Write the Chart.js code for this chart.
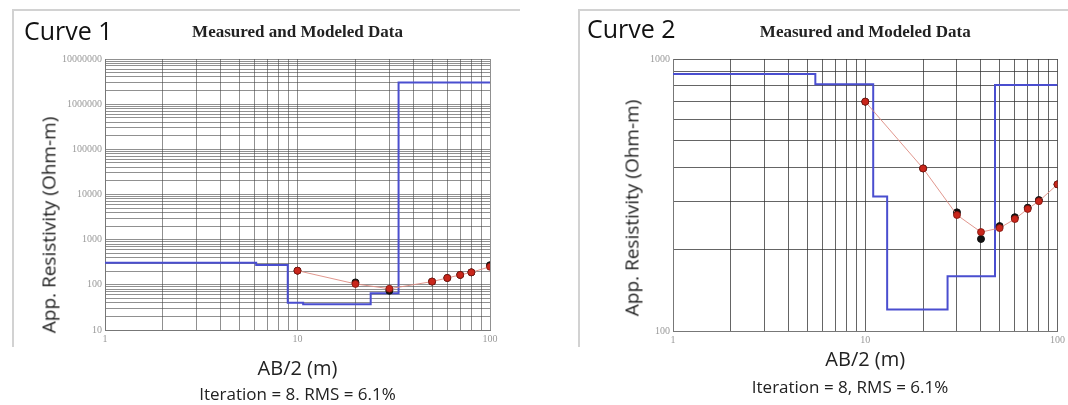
<!DOCTYPE html>
<html>
<head>
<meta charset="utf-8">
<title>Measured and Modeled Data</title>
<script src="https://cdn.jsdelivr.net/npm/chart.js@4.4.1/dist/chart.umd.min.js"></script>
<style>
  body { margin: 0; background: #fff; }
  #page { position: relative; width: 1068px; height: 405px; overflow: hidden; }
  #page canvas { position: absolute; top: 0; }
  .frame { position: absolute; border-top: 2px solid #d2d2d2; border-left: 2px solid #d2d2d2; }
  .curve { position: absolute; font-family: "Open Sans", sans-serif; font-size: 25px; line-height: 25px; color: #111; }
  .ytitle { position: absolute; font-family: "Open Sans", sans-serif; font-size: 19px; line-height: 1; color: #222;
            white-space: nowrap; transform: translate(-50%, -50%) rotate(-90deg); }
</style>
</head>
<body>
<div id="page">
  <div class="frame" style="left:12px; top:9px; width:506px; height:336px;"></div>
  <div class="frame" style="left:578px; top:9px; width:490px; height:336px;"></div>
  <canvas id="curve1" width="540" height="405" style="left:0;"></canvas>
  <canvas id="curve2" width="528" height="405" style="left:540px;"></canvas>
  <div class="curve" style="left:24px; top:18px;">Curve 1</div>
  <div class="curve" style="left:587px; top:16px;">Curve 2</div>
  <div class="ytitle" style="left:49px; top:225px;">App. Resistivity (Ohm-m)</div>
  <div class="ytitle" style="left:632px; top:208px;">App. Resistivity (Ohm-m)</div>
</div>

<script>
// --- data ---
const xTickLabels = [1, 10, 100];

// Curve 1
const yTickLabels1 = [10, 100, 1000, 10000, 100000, 1000000, 10000000];
const layerTop1 = [1, 6.1, 8.9, 10.7, 24, 33.5, 100];
const layerRho1 = [310, 275, 40, 37, 65, 3000000, 3000000];
const ab2_1 = [10, 20, 30, 50, 60, 70, 80, 100];
const measured1 = [206, 113, 74, 118, 142, 166, 189, 272];
const calculated1 = [206, 105, 82, 118, 142, 166, 189, 252];

// Curve 2
const yTickLabels2 = [100, 1000];
const layerTop2 = [1, 5.5, 11.0, 13.0, 26.8, 47.3, 100];
const layerRho2 = [880, 808, 312, 120, 159, 802, 802];
const ab2_2 = [10, 20, 30, 40, 50, 60, 70, 80, 100];
const measured2 = [697, 396, 273, 218, 243, 262, 284, 303, 346];
const calculated2 = [697, 396, 267, 231, 239, 258, 281, 300, 346];

// log grid: 1..9 in every decade
function decadeTicks(min, max) {
  const ticks = [];
  for (let d = min; d < max; d *= 10) {
    for (let k = 1; k < 10; k++) ticks.push({ value: d * k });
  }
  ticks.push({ value: max });
  return ticks;
}

function pairs(xs, ys) {
  return xs.map((x, i) => ({ x: x, y: ys[i] }));
}

function makeChart(id, cfg) {
  const tickFont = { family: 'Liberation Serif', size: 10 };
  return new Chart(document.getElementById(id), {
    type: 'scatter',
    data: {
      datasets: [
        {
          label: 'Calculated',
          data: pairs(cfg.ab2, cfg.calculated),
          showLine: true,
          borderColor: 'rgba(222,140,130,0.9)',
          borderWidth: 1,
          pointRadius: 3.5,
          pointBackgroundColor: '#c9261b',
          pointBorderColor: '#7d140d',
          pointBorderWidth: 0.8
        },
        {
          label: 'Measured',
          data: pairs(cfg.ab2, cfg.measured),
          pointRadius: 3.5,
          pointBackgroundColor: '#111',
          pointBorderColor: '#111'
        },
        {
          label: 'Model',
          data: pairs(cfg.layerTop, cfg.layerRho),
          showLine: true,
          stepped: 'before',
          borderColor: '#4a4ecf',
          borderWidth: 2,
          pointRadius: 0
        }
      ]
    },
    options: {
      responsive: false,
      animation: false,
      devicePixelRatio: 1,
      layout: { padding: { left: cfg.padLeft, right: cfg.padRight, top: 0, bottom: 0 } },
      plugins: {
        legend: { display: false },
        tooltip: { enabled: false },
        title: {
          display: true,
          fullSize: false,
          text: 'Measured and Modeled Data',
          color: '#222',
          font: { family: 'Liberation Serif', size: 17, weight: 'bold' },
          padding: { top: 22.8, bottom: 15.8 }
        },
        subtitle: {
          display: true,
          fullSize: cfg.noteFull,
          position: 'bottom',
          text: cfg.note,
          color: '#222',
          font: { family: 'Open Sans', size: 17 },
          padding: { top: 3, bottom: cfg.notePad }
        }
      },
      scales: {
        x: {
          type: 'logarithmic',
          min: 1,
          max: 100,
          afterBuildTicks: (s) => { s.ticks = decadeTicks(1, 100); },
          afterFit: (s) => { s.height = cfg.xHeight; },
          grid: { color: cfg.gridColor, drawTicks: false },
          border: { color: '#777' },
          ticks: {
            autoSkip: false,
            maxRotation: 0,
            padding: 3,
            color: '#999',
            font: tickFont,
            callback: (v) => xTickLabels.includes(v) ? String(v) : ''
          },
          title: {
            display: true,
            text: 'AB/2 (m)',
            color: '#222',
            font: { family: 'Open Sans', size: 20 },
            padding: { top: 0, bottom: cfg.xTitlePad }
          }
        },
        y: {
          type: 'logarithmic',
          min: cfg.yMin,
          max: cfg.yMax,
          afterBuildTicks: (s) => { s.ticks = decadeTicks(cfg.yMin, cfg.yMax); },
          afterFit: (s) => { s.width = cfg.yWidth; },
          grid: { color: cfg.gridColor, drawTicks: false },
          border: { color: '#777' },
          ticks: {
            autoSkip: false,
            padding: 3,
            color: '#999',
            font: tickFont,
            callback: (v) => cfg.yLabels.includes(v) ? String(v) : ''
          }
        }
      }
    }
  });
}

makeChart('curve1', {
  ab2: ab2_1, measured: measured1, calculated: calculated1,
  layerTop: layerTop1, layerRho: layerRho1,
  yMin: 10, yMax: 10000000, yLabels: yTickLabels1,
  note: 'Iteration = 8. RMS = 6.1%', noteFull: false,
  padLeft: 40, padRight: 50, yWidth: 65,
  xHeight: 51.6, xTitlePad: 0.6, notePad: 0,
  gridColor: 'rgba(70,70,70,0.6)'
});

makeChart('curve2', {
  ab2: ab2_2, measured: measured2, calculated: calculated2,
  layerTop: layerTop2, layerRho: layerRho2,
  yMin: 100, yMax: 1000, yLabels: yTickLabels2,
  note: 'Iteration = 8, RMS = 6.1%', noteFull: true,
  padLeft: 102, padRight: 10, yWidth: 31,
  xHeight: 43.8, xTitlePad: 2.8, notePad: 6.8,
  gridColor: 'rgba(50,50,50,0.75)'
});
</script>
</body>
</html>
